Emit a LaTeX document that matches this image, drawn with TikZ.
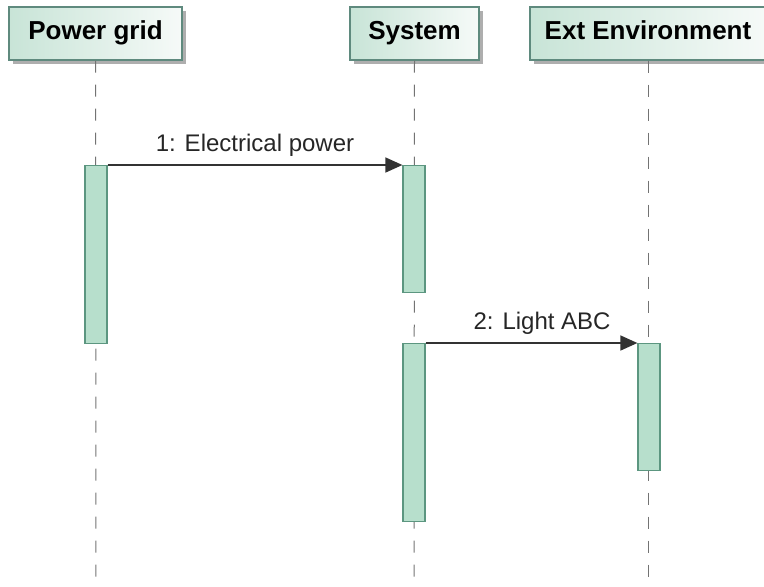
\documentclass[tikz,border=0pt]{standalone}
\usepackage{fontspec}
\setmainfont{Liberation Sans}
\usepackage{tikz}
\usetikzlibrary{arrows.meta,positioning,shadows}
\definecolor{boxline}{RGB}{95,138,126}
\definecolor{boxleft}{RGB}{200,228,215}
\definecolor{boxright}{RGB}{246,250,248}
\definecolor{barline}{RGB}{92,150,128}
\definecolor{barfill}{RGB}{183,223,204}
\definecolor{msgline}{RGB}{50,50,50}

\begin{document}
\begin{tikzpicture}[x=1pt,y=-1pt,
    header/.style={draw=boxline,line width=1.4pt,left color=boxleft,right color=boxright,
      minimum height=53pt,inner sep=0pt,text height=19pt,text depth=7pt,
      font=\fontsize{26}{30}\selectfont\bfseries,
      drop shadow={shadow xshift=4pt,shadow yshift=-4pt,fill=black!45,opacity=0.7}},
    lifeline/.style={draw=black!55,line width=1pt,dash pattern=on 12pt off 12pt},
    actbar/.style={draw=barline,fill=barfill,line width=1.2pt,minimum width=22pt,
      inner sep=0pt,anchor=north},
    msg/.style={draw=msgline,line width=1.5pt,-{Triangle[length=17pt,width=15pt]}},
    msglabel/.style={font=\fontsize{24}{28}\selectfont,text=black!85}]
  \useasboundingbox (0,0) rectangle (764,587);
  \clip (0,0) rectangle (764,587);
  % ---------- heads ----------
  \node[header,minimum width=173pt] (grid) at (95.5,33.5) {Power grid};
  \node[header,minimum width=129pt] (sys) at (414.5,33.5) {System};
  \node[header,minimum width=236pt] (env) at (648,33.5) {Ext Environment};
  % ---------- lifelines ----------
  \coordinate (gridEnd) at (96,587);
  \coordinate (sysEnd) at (414,587);
  \coordinate (envEnd) at (648,587);
  \draw[lifeline] (grid.south) -- (gridEnd);
  \draw[lifeline] (sys.south) -- (sysEnd);
  \draw[lifeline] (env.south) -- (envEnd);
  % ---------- activations ----------
  \node[actbar,minimum height=178pt] (gridAct) at (96,165) {};
  \node[actbar,minimum height=127pt] (sysActA) at (414,165) {};
  \node[actbar,minimum height=178pt] (sysActB) at (414,343) {};
  \node[actbar,minimum height=127pt] (envAct) at (649,343) {};
  % ---------- messages ----------
  \draw[msg] (gridAct.north east) -- (sysActA.north west)
    node[msglabel,midway,above=4pt] {1: Electrical power};
  \draw[msg] (sysActB.north east) -- (envAct.north west)
    node[msglabel,pos=0.55,above=4pt] {2: Light ABC};
\end{tikzpicture}
\end{document}
